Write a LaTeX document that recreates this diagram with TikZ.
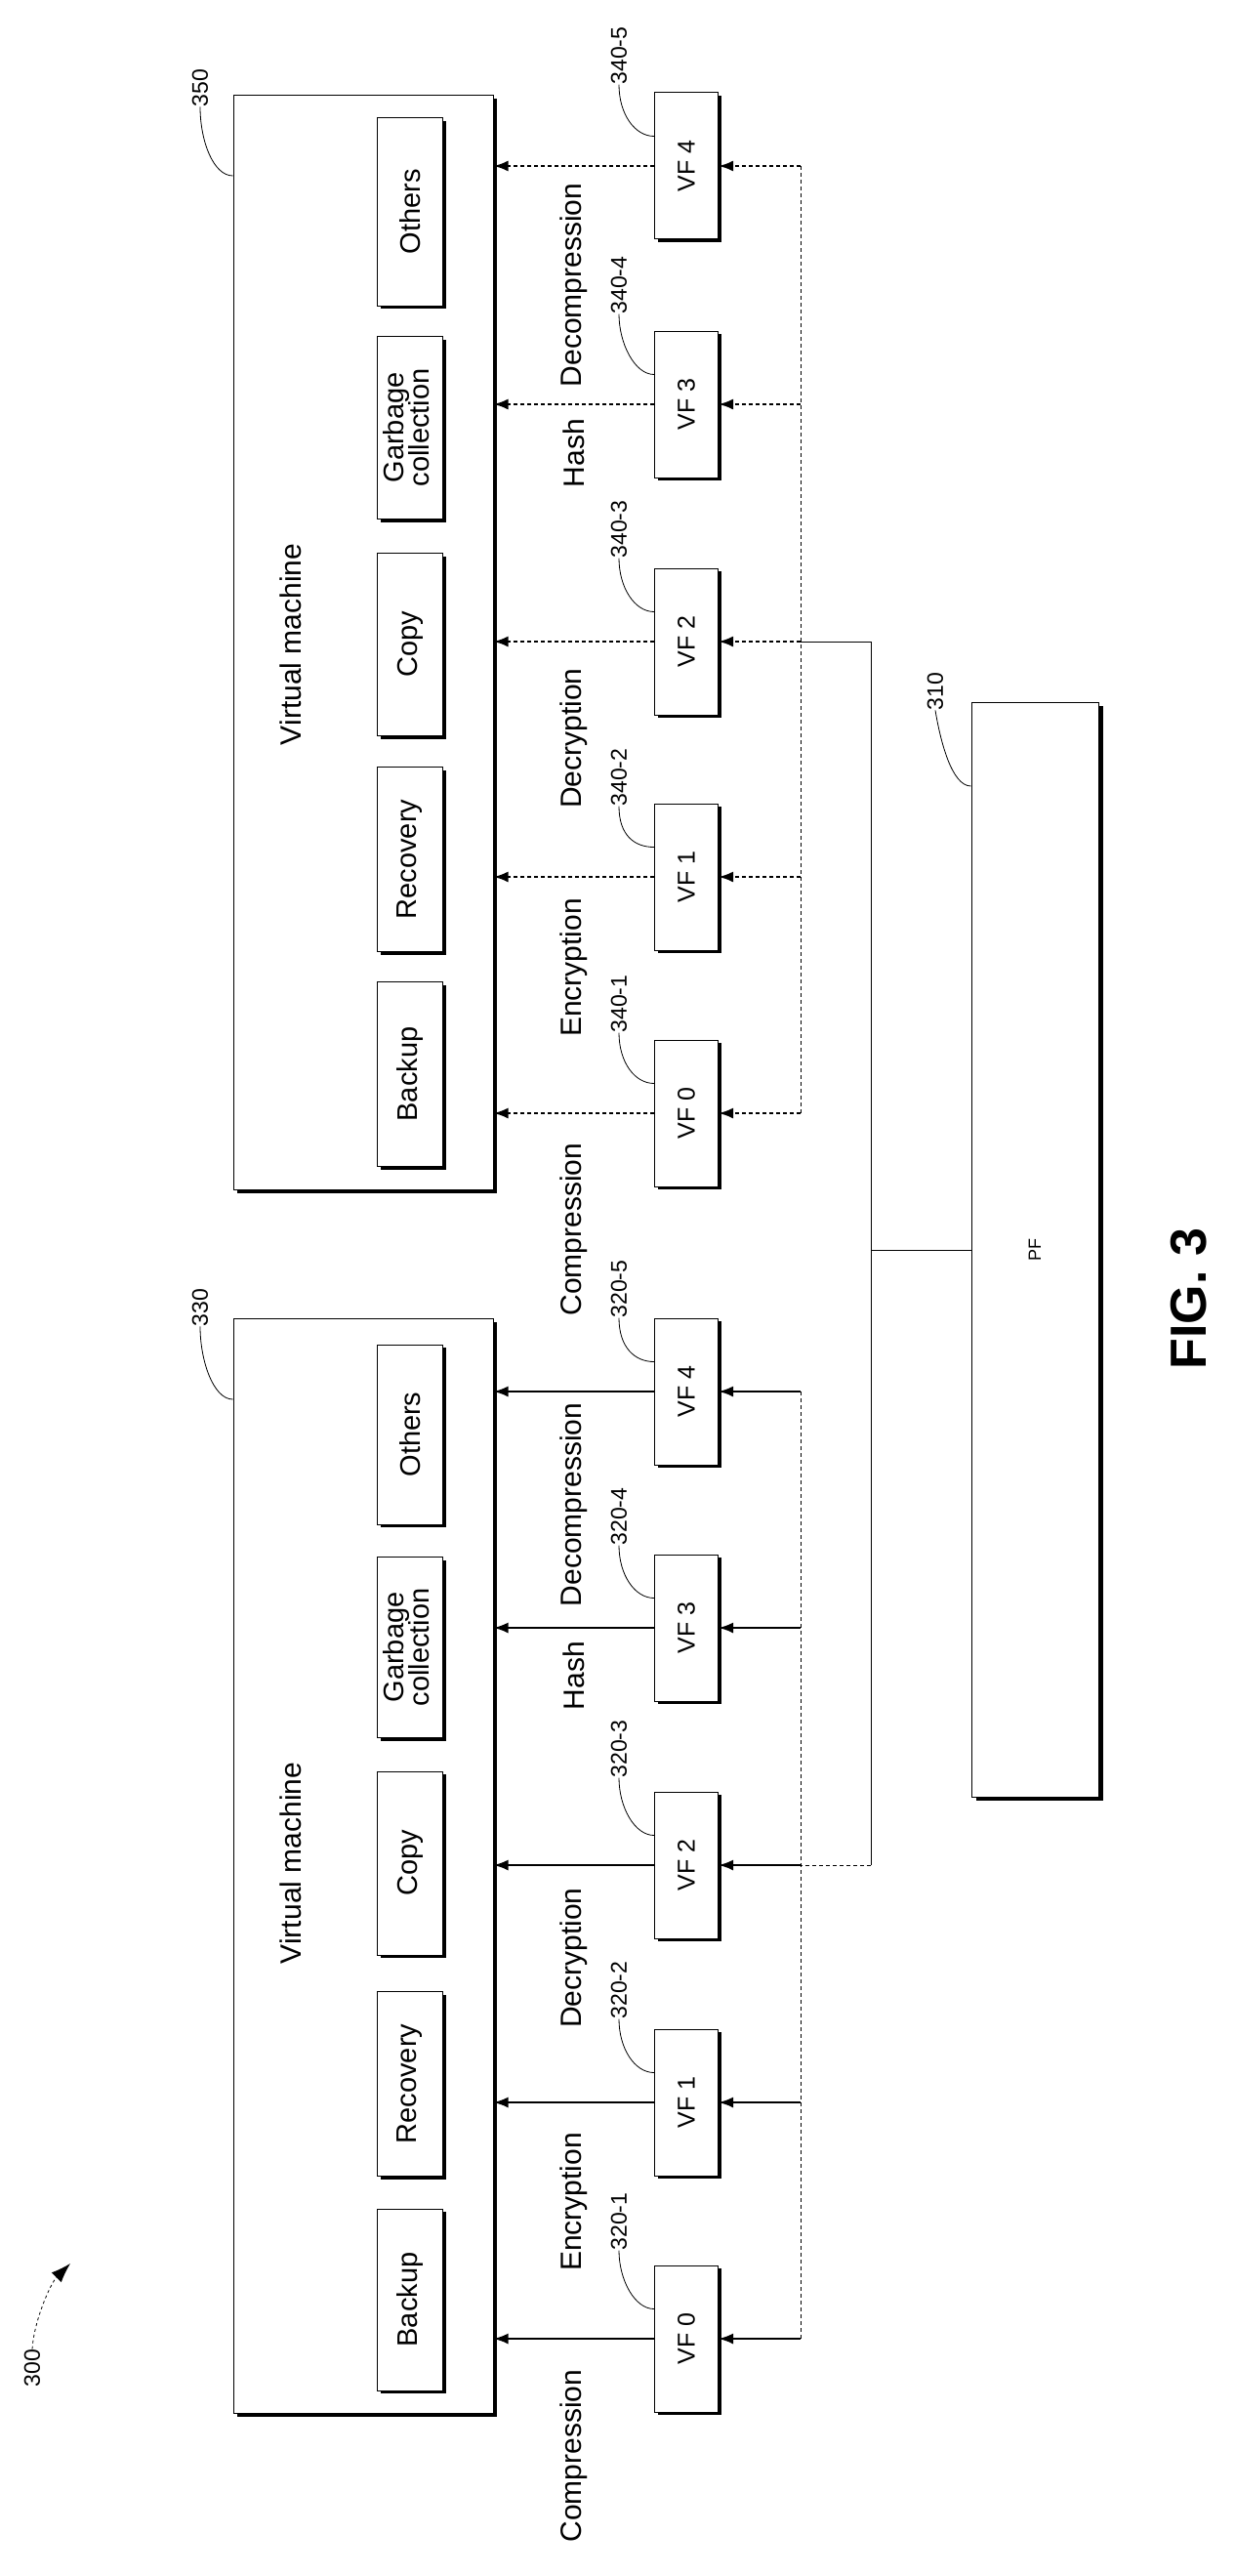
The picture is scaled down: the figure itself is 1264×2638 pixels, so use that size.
\documentclass[tikz,border=0pt]{standalone}
\usepackage{fontspec}
\setmainfont{Liberation Sans}
\usetikzlibrary{arrows.meta,shadows}
\newcommand{\up}[1]{\rotatebox{90}{#1}}
\tikzstyle{VM}=[draw=black, fill=white, line width=1pt, minimum width=266pt, minimum height=1121pt, drop shadow={shadow xshift=3.5pt, shadow yshift=-3.5pt, opacity=1, fill=black}]
\tikzstyle{Service}=[draw=black, fill=white, line width=1pt, minimum width=67pt, inner sep=0pt, font=\fontsize{29}{32}\selectfont, drop shadow={shadow xshift=3pt, shadow yshift=-3pt, opacity=1, fill=black}]
\tikzstyle{VF}=[draw=black, fill=white, line width=1pt, minimum width=65pt, minimum height=150pt, inner sep=0pt, font=\fontsize{25}{28}\selectfont, drop shadow={shadow xshift=3pt, shadow yshift=-3pt, opacity=1, fill=black}]
\tikzstyle{Func}=[inner sep=0pt, font=\fontsize{30}{34}\selectfont]
\tikzstyle{Ref}=[inner sep=0pt, font=\fontsize{23}{26}\selectfont]
\tikzstyle{arrow}=[line width=2.2pt, -{Latex[length=15pt,width=11pt]}]
\tikzstyle{fine}=[dash pattern=on 4pt off 3pt]
\tikzstyle{leader}=[line width=0.8pt]

\begin{document}
\begin{tikzpicture}[x=1pt, y=-1pt]
	\useasboundingbox (0,0) rectangle (1264,2638);
	% virtual machine 350
	\node [style=VM] (vm350) at (372,658) {};
	\node [Func] (vmtxt350) at (298,660) {\up{Virtual machine}};
	\node [Service, minimum height=192pt] (others350) at (420,217) {\up{Others}};
	\node [Service, minimum height=187pt] (gc350) at (420,438) {\up{\begin{tabular}{@{}c@{}}Garbage\\[-6pt]collection\end{tabular}}};
	\node [Service, minimum height=187pt] (copy350) at (420,660) {\up{Copy}};
	\node [Service, minimum height=189pt] (recovery350) at (420,880) {\up{Recovery}};
	\node [Service, minimum height=189pt] (backup350) at (420,1100) {\up{Backup}};
	\node [style=VF] (vf4b) at (703,170) {\up{VF 4}};
	\node [style=VF] (vf3b) at (703,414) {\up{VF 3}};
	\node [style=VF] (vf2b) at (703,657) {\up{VF 2}};
	\node [style=VF] (vf1b) at (703,898) {\up{VF 1}};
	\node [style=VF] (vf0b) at (703,1140) {\up{VF 0}};

	% virtual machine 330
	\node [style=VM] (vm330) at (372,1911) {};
	\node [Func] (vmtxt330) at (298,1908) {\up{Virtual machine}};
	\node [Service, minimum height=184pt] (others330) at (420,1469) {\up{Others}};
	\node [Service, minimum height=185pt] (gc330) at (420,1687) {\up{\begin{tabular}{@{}c@{}}Garbage\\[-6pt]collection\end{tabular}}};
	\node [Service, minimum height=188pt] (copy330) at (420,1908) {\up{Copy}};
	\node [Service, minimum height=189pt] (recovery330) at (420,2134) {\up{Recovery}};
	\node [Service, minimum height=186pt] (backup330) at (420,2355) {\up{Backup}};
	\node [style=VF] (vf4a) at (703,1425) {\up{VF 4}};
	\node [style=VF] (vf3a) at (703,1667) {\up{VF 3}};
	\node [style=VF] (vf2a) at (703,1910) {\up{VF 2}};
	\node [style=VF] (vf1a) at (703,2153) {\up{VF 1}};
	\node [style=VF] (vf0a) at (703,2395) {\up{VF 0}};

	% physical function
	\node [draw=black, fill=white, line width=1pt, minimum width=130pt, minimum height=1121pt, drop shadow={shadow xshift=5pt, shadow yshift=-3pt, opacity=1, fill=black}, font=\fontsize{18}{20}\selectfont] (pf) at (1060,1280) {\up{PF}};
	\node [font=\bfseries\fontsize{52}{56}\selectfont, inner sep=0pt] (fig) at (1218,1330) {\up{FIG. 3}};

	% function names
	\node [Func] (dec350) at (588,292) {\up{Decompression}};
	\node [Func] (hash350) at (588,464) {\up{Hash}};
	\node [Func] (decr350) at (588,756) {\up{Decryption}};
	\node [Func] (enc350) at (588,991) {\up{Encryption}};
	\node [Func] (comp350) at (588,1259) {\up{Compression}};
	\node [Func] (dec330) at (588,1541) {\up{Decompression}};
	\node [Func] (hash330) at (588,1716) {\up{Hash}};
	\node [Func] (decr330) at (588,2005) {\up{Decryption}};
	\node [Func] (enc330) at (588,2255) {\up{Encryption}};
	\node [Func] (comp330) at (588,2515) {\up{Compression}};

	% reference numbers
	\node [Ref] (r3405) at (634,57) {\up{340-5}};
	\node [Ref] (r3404) at (634,292) {\up{340-4}};
	\node [Ref] (r3403) at (634,542) {\up{340-3}};
	\node [Ref] (r3402) at (634,796) {\up{340-2}};
	\node [Ref] (r3401) at (634,1028) {\up{340-1}};
	\node [Ref] (r3205) at (634,1320) {\up{320-5}};
	\node [Ref] (r3204) at (634,1553) {\up{320-4}};
	\node [Ref] (r3203) at (634,1791) {\up{320-3}};
	\node [Ref] (r3202) at (634,2038) {\up{320-2}};
	\node [Ref] (r3201) at (634,2275) {\up{320-1}};
	\node [Ref] (r350) at (205,90) {\up{350}};
	\node [Ref] (r330) at (205,1339) {\up{330}};
	\node [Ref] (r310) at (958,708) {\up{310}};
	\node [Ref] (r300) at (33,2425) {\up{300}};

	% leaders
	\foreach \r/\v in {r3405/vf4b, r3404/vf3b, r3403/vf2b, r3402/vf1b, r3401/vf0b, r3205/vf4a, r3204/vf3a, r3203/vf2a, r3202/vf1a, r3201/vf0a}
		\draw [leader] (\r.south) .. controls +(0,30) and +(-20,0) .. ([yshift=-45pt]\v.north west);
	\draw [leader] (r350.south) .. controls +(0,35) and +(-20,0) .. ([yshift=-83pt]vm350.north west);
	\draw [leader] (r330.south) .. controls +(0,35) and +(-20,0) .. ([yshift=-83pt]vm330.north west);
	\draw [leader] (r310.south) .. controls +(5,30) and +(-20,0) .. ([yshift=-86pt]pf.north west);
	\draw [leader, dashed, -{Latex[length=20pt,width=14pt]}] (r300.north) .. controls +(2,-30) and +(-20,20) .. (72,2318);

	% buses
	\coordinate (bus4b) at (820,170);
	\coordinate (bus0b) at (820,1140);
	\coordinate (bus4a) at (820,1425);
	\coordinate (bus0a) at (820,2395);
	\coordinate (linkb) at (892,657);
	\coordinate (linka) at (892,1910);
	\coordinate (linkpf) at (892,1280);
	\draw [line width=1pt, fine] (bus4b) -- (bus0b);
	\draw [line width=1pt, fine] (bus4a) -- (bus0a);
	\draw [line width=1pt] (linkb) -- (linka);
	\draw [line width=1pt] (linkpf) -- (linkpf -| pf.west);
	\draw [line width=1pt] (linkb) -- (linkb -| bus4b);
	\draw [line width=1pt, fine] (linka) -- (linka -| bus4a);

	% VM 350 connections
	\foreach \v in {vf4b, vf3b, vf2b, vf1b, vf0b} {
		\draw [arrow, fine] (\v.west) -- (\v.west -| vm350.east);
		\draw [arrow, fine] (\v.east -| bus4b) -- (\v.east);
	}
	% VM 330 connections
	\foreach \v in {vf4a, vf3a, vf2a, vf1a, vf0a} {
		\draw [arrow] (\v.west) -- (\v.west -| vm330.east);
		\draw [arrow] (\v.east -| bus4a) -- (\v.east);
	}
\end{tikzpicture}
\end{document}
